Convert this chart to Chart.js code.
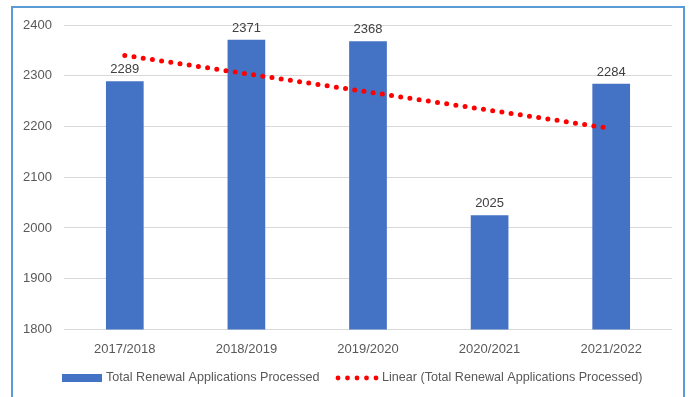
<!DOCTYPE html>
<html>
<head>
<meta charset="utf-8">
<script src="https://cdn.jsdelivr.net/npm/chart.js@4/dist/chart.umd.min.js"></script>
<style>
  body { margin: 0; background: #fff; }
  #wrap { position: relative; width: 694px; height: 397px; }
  #frame { position: absolute; left: 11px; top: 6px; width: 674px; height: 400px; border: 2px solid #5b9bd5; box-sizing: border-box; border-bottom: none; }
  canvas { position: absolute; left: 0; top: 0; }
</style>
</head>
<body>
<div id="wrap">
  <div id="frame"></div>
  <canvas id="renewals" width="694" height="397"></canvas>
</div>
<script>
// yearly totals
const years = ['2017/2018', '2018/2019', '2019/2020', '2020/2021', '2021/2022'];
const processed = [2289, 2371, 2368, 2025, 2284];
// trend line ends (first and last year)
const trendEnds = [2340, 2196];

const barLabel = 'Total Renewal Applications Processed';
const trendLabel = 'Linear (Total Renewal Applications Processed)';

const textColor = '#595959';
const fontFamily = '"Liberation Sans", Arial, sans-serif';

const trendData = years.map((y, i) => i === 0 ? trendEnds[0] : (i === years.length - 1 ? trendEnds[1] : null));

// value labels on top of each bar
const barValues = {
    id: 'barValues',
    afterDatasetsDraw(chart) {
        const ctx = chart.ctx;
        const meta = chart.getDatasetMeta(0);
        ctx.save();
        ctx.font = '13px ' + fontFamily;
        ctx.fillStyle = '#404040';
        ctx.textAlign = 'center';
        ctx.textBaseline = 'bottom';
        meta.data.forEach((bar, i) => {
            ctx.fillText(processed[i], bar.x, bar.y - 5);
        });
        ctx.restore();
    }
};

// legend drawn by hand so the trend sample is dotted
const bottomLegend = {
    id: 'bottomLegend',
    afterDraw(chart) {
        const ctx = chart.ctx;
        const y = 378;
        ctx.save();
        ctx.font = '12.6px ' + fontFamily;
        ctx.textBaseline = 'middle';

        ctx.fillStyle = '#4472c4';
        ctx.fillRect(62, y - 4, 40, 8);
        ctx.fillStyle = textColor;
        ctx.fillText(barLabel, 106, y);

        ctx.fillStyle = '#ff0000';
        for (let k = 0; k < 5; k++) {
            ctx.beginPath();
            ctx.arc(338 + k * 9.5, y, 2.4, 0, Math.PI * 2);
            ctx.fill();
        }
        ctx.fillStyle = textColor;
        ctx.fillText(trendLabel, 382, y);
        ctx.restore();
    }
};

const ctx = document.getElementById('renewals');
new Chart(ctx, {
    data: {
        labels: years,
        datasets: [{
            type: 'bar',
            label: barLabel,
            data: processed,
            backgroundColor: '#4472c4',
            borderWidth: 0,
            barPercentage: 0.31,
            categoryPercentage: 1,
            order: 2
        }, {
            type: 'line',
            label: trendLabel,
            data: trendData,
            spanGaps: true,
            borderColor: '#ff0000',
            borderWidth: 5,
            borderDash: [0, 9.3],
            borderCapStyle: 'round',
            pointRadius: 0,
            fill: false,
            order: 1
        }]
    },
    options: {
        responsive: false,
        animation: false,
        layout: { padding: { left: 0, right: 22, top: 25, bottom: 36 } },
        plugins: {
            legend: { display: false },
            tooltip: { enabled: false }
        },
        scales: {
            x: {
                grid: { display: false },
                border: { display: false },
                ticks: { color: textColor, font: { family: fontFamily, size: 13 }, padding: 4, maxRotation: 0 }
            },
            y: {
                min: 1800,
                max: 2400,
                afterFit(scale) { scale.width = 64; },
                grid: { color: '#d9d9d9', lineWidth: 1, drawTicks: false },
                border: { display: false },
                ticks: {
                    stepSize: 100,
                    color: textColor,
                    font: { family: fontFamily, size: 13 },
                    padding: 12,
                    callback: v => String(v)
                }
            }
        }
    },
    plugins: [barValues, bottomLegend]
});
</script>
</body>
</html>
